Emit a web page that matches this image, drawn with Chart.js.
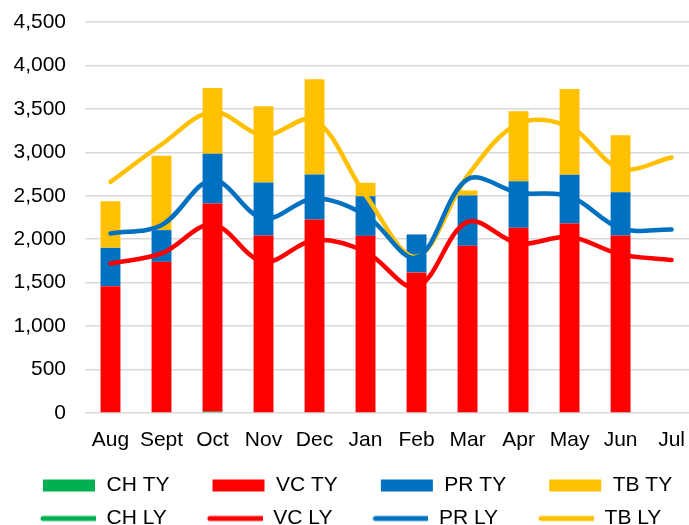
<!DOCTYPE html>
<html>
<head>
<meta charset="utf-8">
<script src="https://cdn.jsdelivr.net/npm/chart.js@4"></script>
<style>
  html, body { margin: 0; padding: 0; background: #fff; overflow: hidden; }
  #wrap { width: 689px; height: 525px; overflow: hidden; }
</style>
</head>
<body>
<div id="wrap"><canvas id="chart" width="700" height="539"></canvas></div>
<script>
// Months on the x axis
const months = ['Aug', 'Sept', 'Oct', 'Nov', 'Dec', 'Jan', 'Feb', 'Mar', 'Apr', 'May', 'Jun', 'Jul'];

// This year (stacked bars)
const chTY = [0, 0, 15, 0, 0, 0, 0, 0, 0, 0, 0, null];
const vcTY = [1460, 1740, 2395, 2043, 2227, 2039, 1618, 1924, 2131, 2181, 2043, null];
const prTY = [441, 365, 575, 610, 518, 456, 437, 579, 537, 560, 498, null];
const tbTY = [537, 855, 755, 877, 1096, 154, 0, 58, 805, 989, 656, null];

// Last year (stacked lines)
const chLY = [null, null, null, null, null, null, null, null, null, null, null, null];
const vcLY = [1721, 1836, 2170, 1740, 1990, 1855, 1450, 2200, 1951, 2028, 1825, 1760];
const prLY = [345, 326, 510, 499, 479, 422, 340, 490, 583, 468, 299, 352];
const tbLY = [594, 928, 785, 958, 901, 230, 10, 40, 797, 797, 690, 828];

// Y axis ticks
const yMin = 0;
const yMax = 4500;
const yStep = 500;

const colours = { CH: '#00B050', VC: '#FF0000', PR: '#0070C0', TB: '#FFC000' };

Chart.defaults.font.family = "'Liberation Sans', Arial, sans-serif";
Chart.defaults.font.size = 21;
Chart.defaults.color = '#000';

// Legend swatch: blank gap on the left, then the bar box or line
const SWATCH_W = 84;
const SWATCH_X = SWATCH_W - 53;
function swatch(kind, colour) {
  const c = document.createElement('canvas');
  c.width = SWATCH_W;
  c.height = 14;
  const g = c.getContext('2d');
  if (kind === 'bar') {
    g.fillStyle = colour;
    g.fillRect(SWATCH_X, 1, 52, 12);
  } else {
    g.strokeStyle = colour;
    g.lineWidth = 5;
    g.lineCap = 'round';
    g.beginPath();
    g.moveTo(SWATCH_X, 7);
    g.lineTo(SWATCH_X + 52, 7);
    g.stroke();
  }
  return c;
}

function barSet(label, data, colour) {
  return { type: 'bar', label, data, backgroundColor: colour, borderWidth: 0, order: 2 };
}

function lineSet(label, data, colour) {
  return {
    type: 'line', label, data,
    borderColor: colour, backgroundColor: colour,
    borderWidth: 4.5, pointRadius: 0, tension: 0.35,
    borderCapStyle: 'round', fill: false, order: 1
  };
}

new Chart(document.getElementById('chart'), {
  data: {
    labels: months,
    datasets: [
      barSet('CH TY', chTY, colours.CH),
      barSet('VC TY', vcTY, colours.VC),
      barSet('PR TY', prTY, colours.PR),
      barSet('TB TY', tbTY, colours.TB),
      lineSet('CH LY', chLY, colours.CH),
      lineSet('VC LY', vcLY, colours.VC),
      lineSet('PR LY', prLY, colours.PR),
      lineSet('TB LY', tbLY, colours.TB)
    ]
  },
  options: {
    responsive: false,
    animation: false,
    locale: 'en-US',
    layout: { padding: { top: 22, left: 0, right: 0, bottom: 0 } },
    datasets: { bar: { barPercentage: 0.39, categoryPercentage: 1 } },
    scales: {
      x: {
        stacked: true,
        grid: { display: false, drawTicks: false },
        border: { display: false },
        ticks: { padding: 15, maxRotation: 0, autoSkip: false },
        afterFit: (scale) => { scale.height = 50; }
      },
      y: {
        stacked: true,
        min: yMin,
        max: yMax,
        grid: { color: '#d9d9d9', lineWidth: 1.5, drawTicks: false },
        border: { display: false },
        ticks: { stepSize: yStep, padding: 19 },
        afterFit: (scale) => {
          scale.width = 85;
          scale.paddingTop = 0;
          scale.paddingBottom = 0;
        }
      }
    },
    plugins: {
      tooltip: { enabled: false },
      legend: {
        position: 'bottom',
        align: 'start',
        labels: {
          usePointStyle: true,
          pointStyleWidth: SWATCH_W,
          boxHeight: 14,
          padding: 12,
          color: '#000',
          generateLabels: (chart) => chart.data.datasets.map((ds, i) => ({
            text: ds.label,
            fillStyle: ds.backgroundColor,
            strokeStyle: ds.backgroundColor,
            lineWidth: 0,
            fontColor: '#000',
            hidden: !chart.isDatasetVisible(i),
            datasetIndex: i,
            pointStyle: swatch(ds.type === 'line' ? 'line' : 'bar', ds.backgroundColor)
          }))
        }
      }
    }
  }
});
</script>
</body>
</html>
